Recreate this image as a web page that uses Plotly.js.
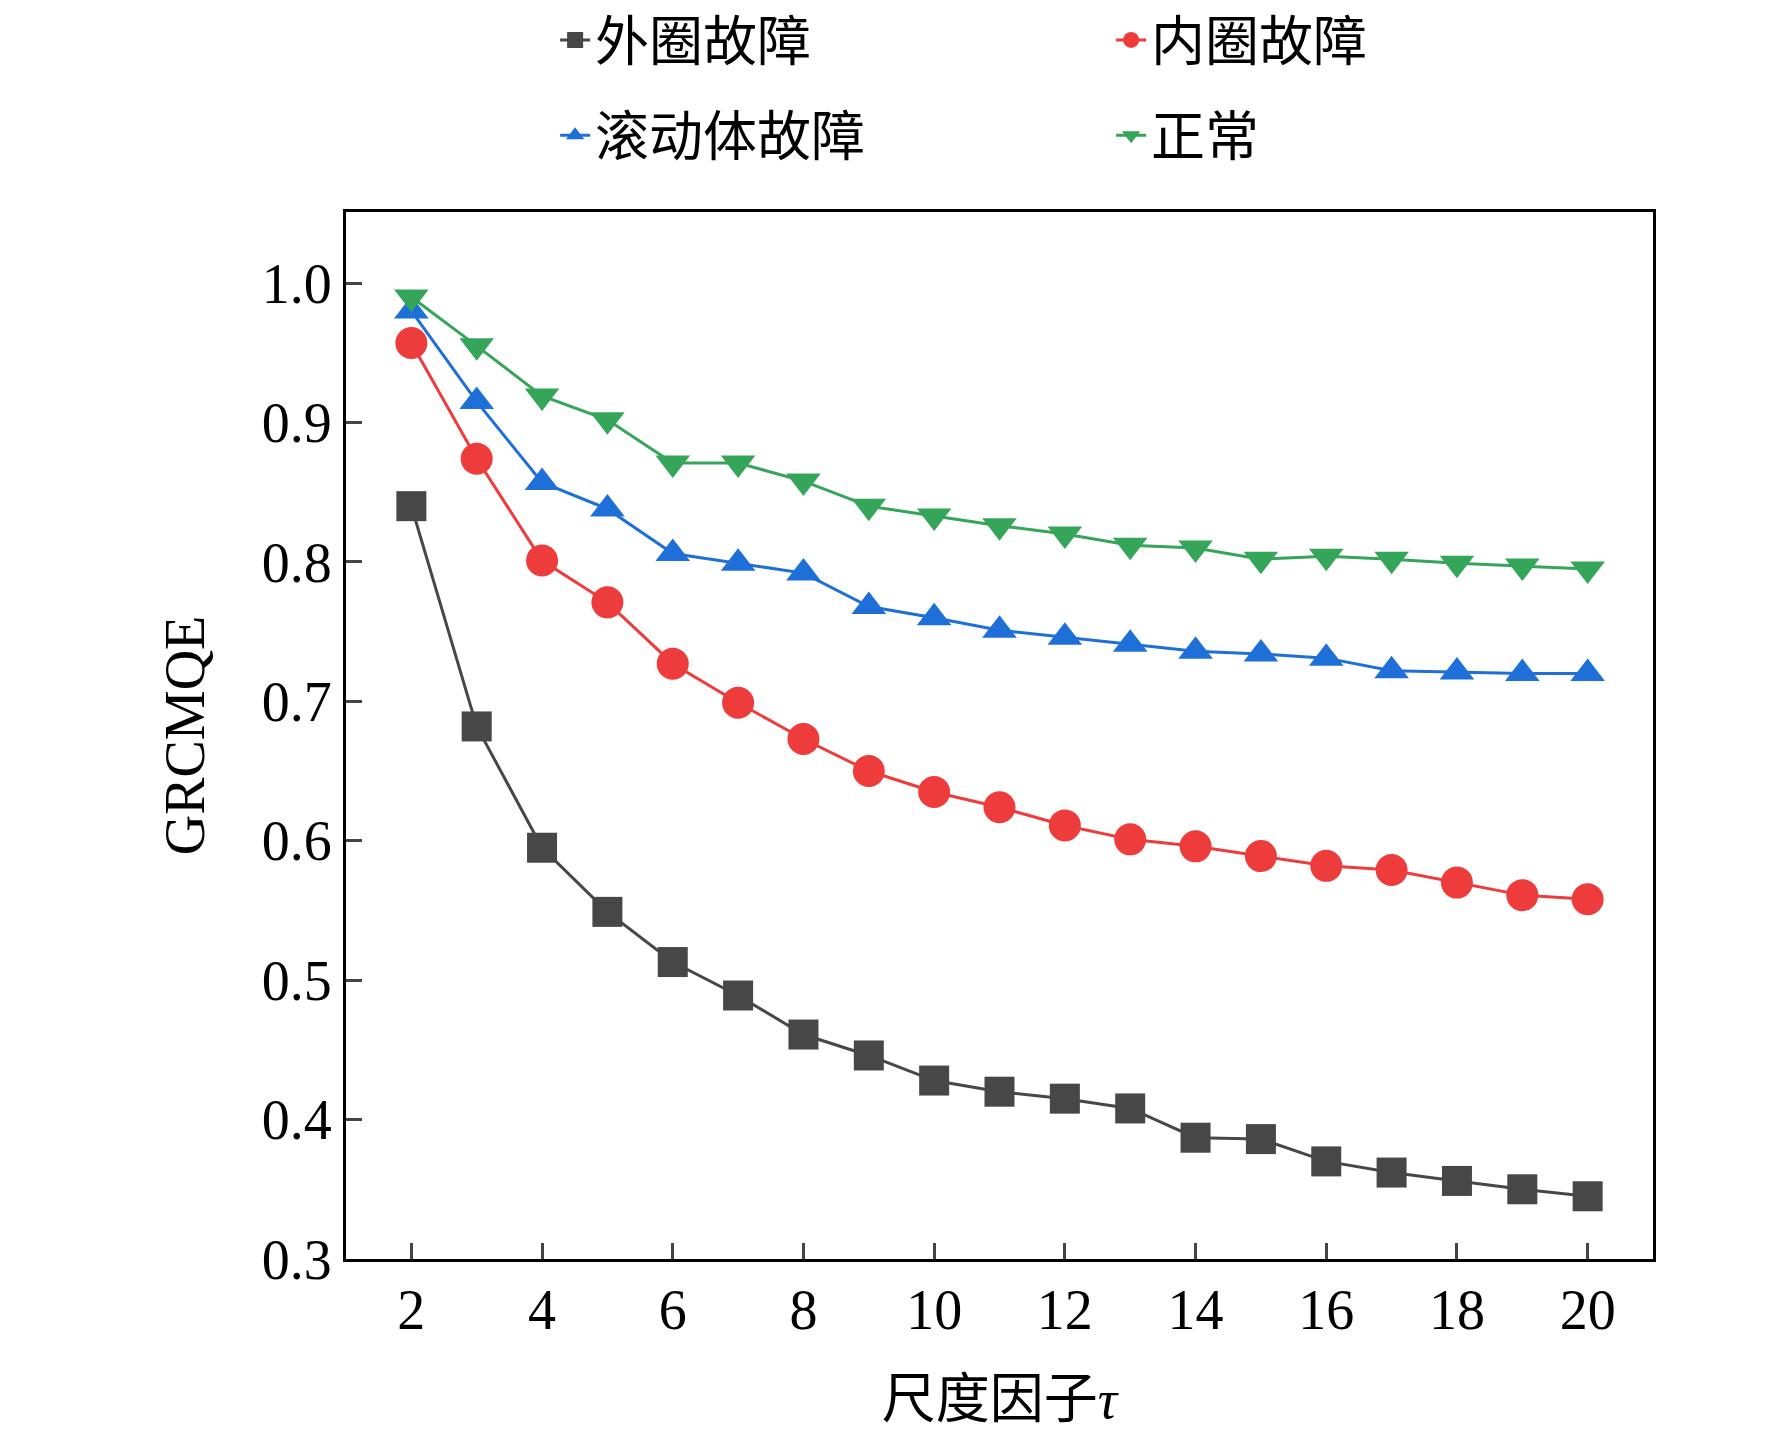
<!DOCTYPE html><html><head><meta charset="utf-8"><script src="https://cdn.plot.ly/plotly-3.0.1.min.js"></script></head><body style="margin:0"><div id="g" style="width:1772px;height:1446px"></div><script>
const tau=[2,3,4,5,6,7,8,9,10,11,12,13,14,15,16,17,18,19,20];
const outer=[0.84,0.682,0.595,0.549,0.513,0.489,0.461,0.446,0.428,0.420,0.415,0.408,0.387,0.386,0.370,0.362,0.356,0.350,0.345];
const inner=[0.957,0.874,0.801,0.771,0.727,0.699,0.673,0.650,0.635,0.624,0.611,0.601,0.596,0.589,0.582,0.579,0.570,0.561,0.558];
const rolling=[0.98,0.915,0.857,0.838,0.806,0.799,0.792,0.768,0.760,0.751,0.746,0.741,0.736,0.734,0.731,0.722,0.721,0.720,0.720];
const normal=[0.99,0.955,0.919,0.902,0.871,0.871,0.858,0.840,0.833,0.826,0.820,0.812,0.810,0.802,0.804,0.802,0.799,0.797,0.795];
const names=['外圈故障','内圈故障','滚动体故障','正常'];
const cols=['#474747','#ee3b3b','#1f6fd8','#35a55a'];
const syms=['square','circle','triangle-up','triangle-down'];
const ys=[outer,inner,rolling,normal];
const data=ys.map((y,i)=>({x:tau,y:y,name:names[i],legend:i<2?'legend':'legend2',mode:'lines+markers',line:{color:cols[i],width:3},marker:{symbol:syms[i],size:i==1?32:30,color:cols[i]}}));
const tf={family:'Liberation Serif',size:56,color:'#000'};
const lf={family:'Noto Sans CJK SC',size:54,color:'#000'};
Plotly.newPlot('g',data,{width:1772,height:1446,margin:{l:346,r:119,t:212,b:187,autoexpand:false},
showlegend:true,
legend:{orientation:'h',x:0.16,xanchor:'left',y:1.164,yanchor:'middle',entrywidth:511,traceorder:'normal',font:lf,bgcolor:'rgba(0,0,0,0)'},
legend2:{orientation:'h',x:0.16,xanchor:'left',y:1.073,yanchor:'middle',entrywidth:511,traceorder:'normal',font:lf,bgcolor:'rgba(0,0,0,0)'},
xaxis:{range:[1,21],tickvals:[2,4,6,8,10,12,14,16,18,20],ticks:'inside',ticklen:16,tickwidth:3,showgrid:false,zeroline:false,showline:true,mirror:true,linewidth:3,linecolor:'#000',tickfont:tf,title:{text:'尺度因子<i style="font-family:Liberation Serif">τ</i>',font:lf,standoff:40}},
yaxis:{range:[0.3,1.051],tickvals:[0.3,0.4,0.5,0.6,0.7,0.8,0.9,1.0],tickformat:'.1f',ticks:'inside',ticklen:16,tickwidth:3,showgrid:false,zeroline:false,showline:true,mirror:true,linewidth:3,linecolor:'#000',tickfont:tf,title:{text:'GRCMQE',font:tf,standoff:40}},
plot_bgcolor:'#fff',paper_bgcolor:'#fff'},{displayModeBar:false});
</script></body></html>
